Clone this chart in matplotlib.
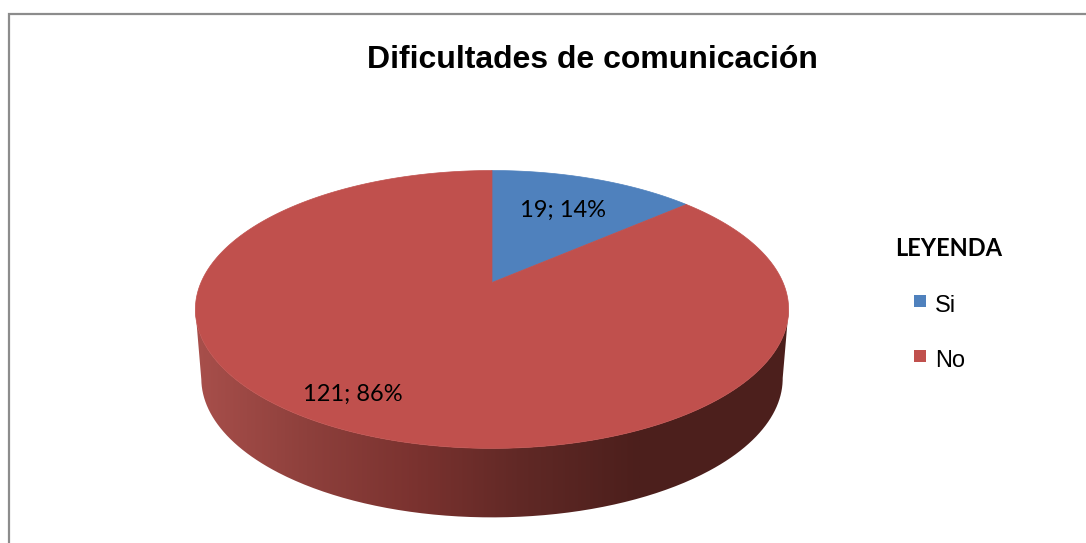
import matplotlib
matplotlib.use("Agg")
import matplotlib.pyplot as plt
import numpy as np
from matplotlib.patches import PathPatch
from matplotlib.path import Path
from matplotlib.colors import LinearSegmentedColormap

# datos del grafico
categorias = ["Si", "No"]
valores = [19, 121]
porcentajes = [14, 86]
colores = ["#4F81BD", "#C0504D"]
titulo = "Dificultades de comunicación"
titulo_leyenda = "LEYENDA"

# geometria del pastel en pixeles de la imagen
cx, cy = 492, 282.5  # vertice de los sectores
a, c, k = 291, 133.7, 0.194  # perspectiva
alto = 69
base = 0.98  # la base se ve algo mas estrecha que la cara de arriba


# pasa un punto del circulo unidad a la elipse en perspectiva
def proyecta(x, y):
    d = 1 + k * y
    return cx + a * x / d, cy - c * y / d


def sector(t0, t1):
    t = np.linspace(t0, t1, 300)
    px, py = proyecta(np.sin(t), np.cos(t))
    return np.r_[cx, px], np.r_[cy, py]


fig = plt.figure(figsize=(10.86, 5.43), dpi=100)
ax = fig.add_axes([0, 0, 1, 1])
ax.set_xlim(0, 1086)
ax.set_ylim(543, 0)
ax.axis("off")

# marco, solo arriba y a la izquierda se ven en el recorte
ax.plot([8.5, 8.5, 1086], [543, 13.5, 13.5], color="#8c8c8c", lw=1.6, solid_joinstyle="miter")

# lateral con degradado
t = np.linspace(0, 2 * np.pi, 721)
ex, ey = proyecta(np.sin(t), np.cos(t))
i0 = np.argmax(ex)
i1 = np.argmin(ex)
bx = ex[i0:i1 + 1]
by = ey[i0:i1 + 1]
bx2 = cx + (bx - cx) * base
lado = np.c_[np.r_[bx, bx2[::-1]], np.r_[by, by[::-1] + alto]]
clip = PathPatch(Path(np.r_[lado, lado[:1]]), fc="none", ec="none", transform=ax.transData)
ax.add_patch(clip)
cmap = LinearSegmentedColormap.from_list(
    "lado",
    [(0, "#a84f4b"), (0.25, "#8e403c"), (0.5, "#7a322f"), (0.75, "#5f2825"), (1, "#4c1f1c")],
)
grad = np.linspace(0, 1, 256).reshape(1, -1)
im = ax.imshow(grad, cmap=cmap, extent=[195, 640, 530, 280], aspect="auto", zorder=1)
im.set_clip_path(clip)
ax.fill_between([640, 790], 280, 530, color="#4c1f1c", lw=0, zorder=1, clip_path=clip)
ax.set_xlim(0, 1086)
ax.set_ylim(543, 0)

# sectores, sentido horario desde arriba
angulos = np.r_[0, np.cumsum(valores)] / sum(valores) * 2 * np.pi
for i in range(len(valores)):
    sx, sy = sector(angulos[i], angulos[i + 1])
    ax.fill(sx, sy, color=colores[i], lw=0.5, zorder=2)

# etiquetas de datos
etiquetas = ["%d; %d%%" % (v, p) for v, p in zip(valores, porcentajes)]
pos_etiquetas = [(563, 210), (353, 394)]
for txt, (x, y) in zip(etiquetas, pos_etiquetas):
    ax.text(x, y, txt, ha="center", va="center", fontsize=17, family="Lato", color="black", zorder=3)

ax.text(592, 60, titulo, ha="center", va="center", fontsize=23, fontweight="bold", family="Liberation Sans")

# leyenda hecha a mano para colocarla igual
ax.text(949, 249, titulo_leyenda, ha="center", va="center", fontsize=17, fontweight="bold", family="Lato")
pos_y = [306, 361]
for nombre, col, y in zip(categorias, colores, pos_y):
    ax.scatter([920], [y - 5], marker="s", s=75, color=col, lw=0, zorder=3)
    ax.text(935, y, nombre, ha="left", va="center", fontsize=17, family="Liberation Sans")

fig.savefig("out.png", dpi=100)
